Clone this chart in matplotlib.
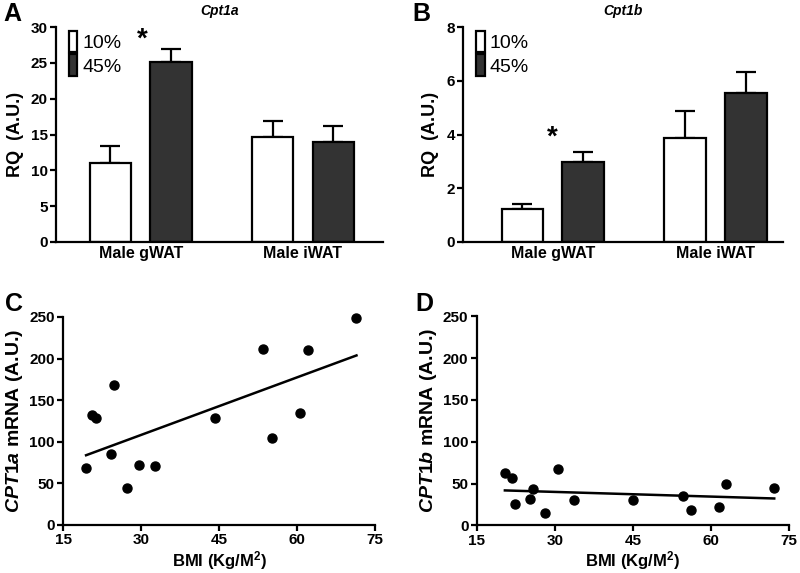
import matplotlib
matplotlib.use("Agg")
import matplotlib.pyplot as plt
import numpy as np

plt.rcParams['font.family'] = ['Liberation Sans', 'DejaVu Sans']
plt.rcParams['mathtext.fontset'] = 'custom'
plt.rcParams['mathtext.rm'] = 'Liberation Sans:bold'
plt.rcParams['mathtext.it'] = 'Liberation Sans:italic:bold'
plt.rcParams['mathtext.bf'] = 'Liberation Sans:bold'

#========================================================================================
groups = ["Male gWAT", "Male iWAT"]
diets = ["10%", "45%"]

cpt1a_mean = [[11.0, 14.7], [25.1, 14.0]]
cpt1a_err = [[2.4, 2.2], [1.8, 2.2]]
cpt1b_mean = [[1.23, 3.86], [2.98, 5.53]]
cpt1b_err = [[0.18, 1.0], [0.38, 0.79]]

bmi_a = [19.4, 20.6, 21.4, 24.2, 24.8, 27.3, 29.6, 32.6, 44.1, 53.5, 55.1, 60.6, 62.0, 71.4]
cpt1a_mrna = [68, 132, 129, 85, 168, 45, 71.5, 70.5, 128, 212, 105, 135, 210, 249]
bmi_b = [20.4, 21.7, 22.4, 25.2, 25.8, 28.2, 30.6, 33.6, 45.1, 54.6, 56.2, 61.5, 62.9, 72.2]
cpt1b_mrna = [63, 57, 25.5, 32, 43, 15, 67, 30.5, 31, 35, 19, 22.5, 50, 44.5]

bar_colors = ["white", "#333333"]
#========================================================================================

def style(ax, size):
    for s in ["top", "right"]:
        ax.spines[s].set_visible(False)
    for s in ["left", "bottom"]:
        ax.spines[s].set_linewidth(1.6)
    ax.tick_params(width=1.6, length=4, labelsize=size, pad=2)
    for lab in ax.get_xticklabels() + ax.get_yticklabels():
        lab.set_fontweight("bold")


def bars(ax, means, errs, ylim, yticks, xlim, title, star):
    x = np.arange(len(groups))
    for i in range(len(diets)):
        pos = x + (i - 0.5) * 0.374
        ax.bar(pos, means[i], width=0.255, color=bar_colors[i], edgecolor="black",
               linewidth=1.6, label=diets[i], zorder=2)
        ax.errorbar(pos, means[i], yerr=[np.zeros(len(groups)), errs[i]], fmt="none",
                    ecolor="black", elinewidth=1.6, capsize=7, capthick=1.6, zorder=1)
    ax.set_xlim(xlim)
    ax.set_ylim(ylim)
    ax.set_yticks(yticks)
    ax.set_xticks(x)
    ax.set_xticklabels(groups)
    ax.set_ylabel("RQ  (A.U.)", fontsize=13, fontweight="bold", labelpad=5)
    ax.set_title(title, fontsize=10, fontweight="bold", style="italic", pad=9)
    ax.text(star[0], star[1], "*", fontsize=20, fontweight="bold", ha="center", va="center")
    style(ax, 11)
    ax.tick_params(axis="x", length=0, pad=3, labelsize=11.5)
    ax.legend(loc="upper left", bbox_to_anchor=(0.015, 1.02), frameon=False, fontsize=14,
              handlelength=0.45, handleheight=1.35, handletextpad=0.25, labelspacing=0.1,
              borderaxespad=0)


def scatter(ax, x, y, ylabel):
    ax.plot(x, y, "o", color="black", markersize=6.5, zorder=3, clip_on=False)
    k, b = np.polyfit(x, y, 1)
    xs = np.array([min(x), max(x)])
    ax.plot(xs, k * xs + b, "-", color="black", linewidth=1.8)
    ax.set_xlim(15, 75)
    ax.set_ylim(0, 250)
    ax.set_xticks([15, 30, 45, 60, 75])
    ax.set_yticks([0, 50, 100, 150, 200, 250])
    ax.set_xlabel("BMI (Kg/M$^2$)", fontsize=12, fontweight="bold", labelpad=1)
    ax.set_ylabel(ylabel, fontsize=14, fontweight="bold", labelpad=3)
    style(ax, 11)


fig = plt.figure(figsize=(8, 5.73), dpi=100)
axA = fig.add_axes([0.07, 0.5777, 0.409, 0.375])
axB = fig.add_axes([0.579, 0.5777, 0.400, 0.375])
axC = fig.add_axes([0.079, 0.0838, 0.390, 0.363])
axD = fig.add_axes([0.596, 0.0830, 0.390, 0.365])

bars(axA, cpt1a_mean, cpt1a_err, (0, 30), range(0, 31, 5), (-0.523, 1.495), "Cpt1a", (0.01, 28.3))
bars(axB, cpt1b_mean, cpt1b_err, (0, 8), range(0, 9, 2), (-0.55, 1.416), "Cpt1b", (0.0, 3.88))
scatter(axC, bmi_a, cpt1a_mrna, r"$\it{CPT1a}$ mRNA (A.U.)")
scatter(axD, bmi_b, cpt1b_mrna, r"$\it{CPT1b}$ mRNA (A.U.)")

for lab, (px, py) in zip("ABCD", [(3, 2), (412, 2), (5, 292), (415, 292)]):
    fig.text(px / 800, 1 - py / 573, lab, fontsize=18, fontweight="bold", ha="left", va="top")

fig.savefig("out.png", dpi=100)
